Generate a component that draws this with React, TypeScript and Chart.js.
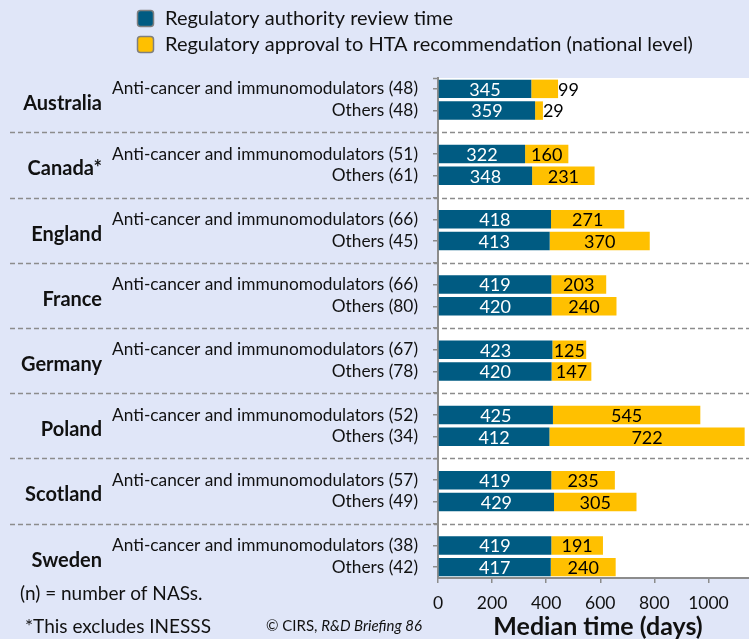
import React, { useEffect, useRef } from "react";
import { Chart, registerables } from "chart.js";

Chart.register(...registerables);

const countries = ["Australia", "Canada*", "England", "France", "Germany", "Poland", "Scotland", "Sweden"];
const antiCounts = [48, 51, 66, 66, 67, 52, 57, 38];
const otherCounts = [48, 61, 45, 80, 78, 34, 49, 42];
const reviewAnti = [345, 322, 418, 419, 423, 425, 419, 419];
const reviewOthers = [359, 348, 413, 420, 420, 412, 429, 417];
const htaAnti = [99, 160, 271, 203, 125, 545, 235, 191];
const htaOthers = [29, 231, 370, 240, 147, 722, 305, 240];
const xTickValues = [0, 200, 400, 600, 800, 1000];
const legendLabels = [
  "Regulatory authority review time",
  "Regulatory approval to HTA recommendation (national level)",
];
const footNote1 = "(n) = number of NASs.";
const footNote2 = "*This excludes INESSS";
const sourceNormal = "© CIRS, ";
const sourceItalic = "R&D Briefing 86";
const axisTitle = "Median time (days)";

const BLUE = "#005B82";
const GOLD = "#FFC000";
const BG = "#E0E6F8";
const GRAY = "#8C8C8C";
const TEXT = "#111111";
const FONT = "Lato, 'Noto Sans', sans-serif";

// Build rows: anti, others, blank separator
const rowLabels: string[] = [];
const reviewData: (number | null)[] = [];
const htaData: (number | null)[] = [];
const separatorIdx: number[] = [];
const groupRows: [number, number][] = [];
countries.forEach((c, i) => {
  const a = rowLabels.length;
  rowLabels.push(`Anti-cancer and immunomodulators (${antiCounts[i]})`);
  reviewData.push(reviewAnti[i]);
  htaData.push(htaAnti[i]);
  rowLabels.push(`Others (${otherCounts[i]})`);
  reviewData.push(reviewOthers[i]);
  htaData.push(htaOthers[i]);
  groupRows.push([a, a + 1]);
  if (i < countries.length - 1) {
    separatorIdx.push(rowLabels.length);
    rowLabels.push("");
    reviewData.push(null);
    htaData.push(null);
  }
});

const bgPlugin = {
  id: "bgPlugin",
  beforeDraw(chart: any) {
    const { ctx, width, height, chartArea } = chart;
    ctx.save();
    ctx.fillStyle = BG;
    ctx.fillRect(0, 0, width, height);
    ctx.fillStyle = "#FFFFFF";
    ctx.fillRect(chartArea.left, chartArea.top, chartArea.right - chartArea.left, chartArea.bottom - chartArea.top);
    ctx.restore();
  },
};

const labelPlugin = {
  id: "labelPlugin",
  afterDatasetsDraw(chart: any) {
    const { ctx } = chart;
    ctx.save();
    ctx.font = `18px ${FONT}`;
    ctx.textBaseline = "middle";
    chart.data.datasets.forEach((ds: any, di: number) => {
      const meta = chart.getDatasetMeta(di);
      meta.data.forEach((el: any, i: number) => {
        const v = ds.data[i];
        if (v == null) return;
        const { x, y, base } = el.getProps(["x", "y", "base"], true);
        const txt = String(v);
        const left = Math.min(x, base);
        const right = Math.max(x, base);
        if (di === 0) {
          ctx.fillStyle = "#FFFFFF";
          ctx.textAlign = "center";
          ctx.fillText(txt, (left + right) / 2, y + 1);
        } else {
          ctx.fillStyle = "#000000";
          if (right - left < 30) {
            ctx.textAlign = "left";
            ctx.fillText(txt, right, y + 1);
          } else {
            ctx.textAlign = "center";
            ctx.fillText(txt, (left + right) / 2, y + 1);
          }
        }
      });
    });
    ctx.restore();
  },
  afterDraw(chart: any) {
    const { ctx, chartArea, width } = chart;
    const yScale = chart.scales.y;
    ctx.save();
    // separators
    ctx.strokeStyle = GRAY;
    ctx.lineWidth = 1.5;
    ctx.setLineDash([5, 3]);
    separatorIdx.forEach((idx) => {
      const py = Math.round(yScale.getPixelForValue(idx)) + 0.5;
      ctx.beginPath();
      ctx.moveTo(10, py);
      ctx.lineTo(width, py);
      ctx.stroke();
    });
    ctx.setLineDash([]);
    // top tick on y axis
    ctx.lineWidth = 1.5;
    ctx.beginPath();
    ctx.moveTo(chartArea.left - 5, chartArea.top + 0.5);
    ctx.lineTo(chartArea.left, chartArea.top + 0.5);
    ctx.stroke();
    // country labels
    ctx.fillStyle = TEXT;
    ctx.font = `bold 20px ${FONT}`;
    ctx.textAlign = "right";
    ctx.textBaseline = "middle";
    groupRows.forEach(([a, b], i) => {
      const cy = (yScale.getPixelForValue(a) + yScale.getPixelForValue(b)) / 2;
      ctx.fillText(countries[i], 102, cy + 4);
    });
    // legend
    const colors = [BLUE, GOLD];
    legendLabels.forEach((t, i) => {
      const by = 10 + i * 26;
      ctx.beginPath();
      ctx.fillStyle = colors[i];
      ctx.strokeStyle = "#7F7F7F";
      ctx.lineWidth = 1.5;
      (ctx as any).roundRect(137.5, by + 0.5, 16, 16, 3);
      ctx.fill();
      ctx.stroke();
      ctx.fillStyle = TEXT;
      ctx.font = `20px ${FONT}`;
      ctx.textAlign = "left";
      ctx.textBaseline = "middle";
      ctx.fillText(t, 165, by + 9);
    });
    // footnotes
    ctx.font = `19px ${FONT}`;
    ctx.textAlign = "left";
    ctx.fillText(footNote1, 20, 594);
    ctx.fillText(footNote2, 25, 627);
    ctx.font = `15px ${FONT}`;
    ctx.fillText(sourceNormal, 266, 626);
    const w1 = ctx.measureText(sourceNormal).width;
    ctx.font = `italic 15px ${FONT}`;
    ctx.fillText(sourceItalic, 266 + w1, 626);
    // axis title
    ctx.font = `bold 25px ${FONT}`;
    ctx.textAlign = "center";
    ctx.fillText(axisTitle, 598, 627);
    ctx.restore();
  },
};

export default function App() {
  const ref = useRef<HTMLCanvasElement | null>(null);
  useEffect(() => {
    if (!ref.current) return;
    const chart = new Chart(ref.current, {
      type: "bar",
      data: {
        labels: rowLabels,
        datasets: [
          {
            label: legendLabels[0],
            data: reviewData,
            backgroundColor: BLUE,
            barPercentage: 0.85,
            categoryPercentage: 1,
          },
          {
            label: legendLabels[1],
            data: htaData,
            backgroundColor: GOLD,
            barPercentage: 0.85,
            categoryPercentage: 1,
          },
        ],
      },
      options: {
        indexAxis: "y",
        responsive: false,
        animation: false,
        layout: { padding: { top: 78, left: 0, right: 0, bottom: 0 } },
        plugins: {
          legend: { display: false },
          tooltip: { enabled: false },
        },
        scales: {
          x: {
            stacked: true,
            min: 0,
            max: 1150,
            afterBuildTicks: (s: any) => {
              s.ticks = xTickValues.map((v) => ({ value: v }));
            },
            afterFit: (s: any) => {
              s.height = 61;
            },
            grid: {
              drawOnChartArea: false,
              drawTicks: true,
              tickLength: 5,
              color: GRAY,
              lineWidth: 1.5,
            },
            border: { display: true, color: GRAY, width: 2 },
            ticks: {
              color: TEXT,
              padding: 10,
              font: { family: FONT, size: 17.5 },
              maxRotation: 0,
              callback: (v: any) => String(v),
            },
            title: { display: false },
          },
          y: {
            stacked: true,
            afterFit: (s: any) => {
              s.width = 438;
            },
            grid: {
              offset: false,
              drawOnChartArea: false,
              drawTicks: true,
              tickLength: 5,
              color: GRAY,
              lineWidth: 1.5,
            },
            border: { display: true, color: GRAY, width: 2 },
            ticks: {
              autoSkip: false,
              color: TEXT,
              padding: 15,
              font: { family: FONT, size: 17.3 },
            },
          },
        },
      },
      plugins: [bgPlugin, labelPlugin],
    } as any);
    return () => chart.destroy();
  }, []);
  return (
    <div style={{ position: "absolute", left: 0, top: 0, width: 749, height: 639 }}>
      <canvas ref={ref} width={749} height={639} style={{ display: "block" }} />
    </div>
  );
}
